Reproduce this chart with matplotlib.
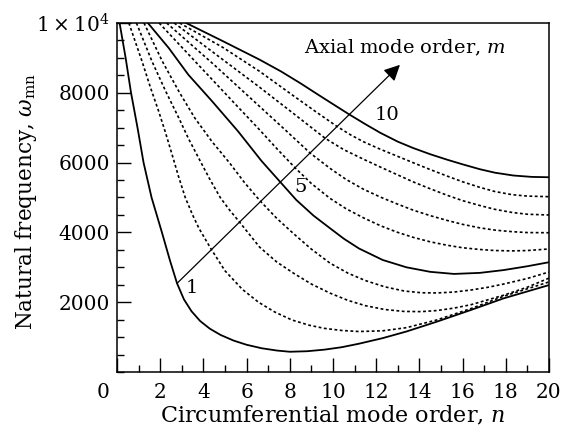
import matplotlib
matplotlib.use("Agg")
from matplotlib import pyplot as plt
from matplotlib.transforms import ScaledTranslation

plt.rcParams["font.family"] = ["DejaVu Serif"]
plt.rcParams["mathtext.fontset"] = "dejavuserif"

# values: circumferential order n -> natural frequency
n_m1 = [0.12, 0.4, 0.65, 0.95, 1.23, 1.6, 2.08, 2.45, 2.78, 3.1, 3.45, 3.85, 4.3, 4.8, 5.4, 6.0, 6.7,
        7.4, 8.0, 8.8, 9.6, 10.4, 11.2, 12.3, 13.4, 14.8, 16.4, 17.9, 20]
w_m1 = [10000, 9000, 8000, 7000, 6000, 5000, 4000, 3200, 2540, 2080, 1740, 1460, 1240, 1060, 900, 780, 680,
        615, 580, 595, 640, 710, 810, 970, 1160, 1440, 1780, 2110, 2490]

n_m2 = [0.55, 1.16, 1.55, 1.93, 2.25, 2.55, 2.85, 3.16, 3.5, 3.8, 4.35, 5.0, 5.8, 6.55, 7.3, 8.1, 8.9,
        9.6, 10.4, 11.2, 12.3, 13.4, 14.8, 16.4, 17.9, 20]
w_m2 = [10000, 8900, 8150, 7470, 6850, 6230, 5600, 5000, 4500, 4110, 3530, 2900, 2370, 2000, 1720, 1490, 1340,
        1250, 1190, 1160, 1180, 1270, 1490, 1820, 2170, 2580]

n_m3 = [0.9, 1.62, 2.25, 2.86, 3.3, 3.78, 4.3, 4.78, 5.2, 5.66, 6.6, 7.4, 8.2, 9.0, 9.86, 10.7, 11.5,
        12.4, 13.3, 14.1, 14.8, 15.6, 16.4, 17.9, 19, 20]
w_m3 = [10000, 8900, 8050, 7280, 6700, 6130, 5520, 5000, 4650, 4306, 3580, 3150, 2820, 2520, 2260, 2050, 1900,
        1790, 1735, 1730, 1760, 1830, 1930, 2200, 2430, 2690]

n_m4 = [1.25, 2.1, 2.9, 3.6, 4.4, 5.2, 5.9, 6.6, 7.4, 8.2, 9.0, 9.86, 10.7, 11.5, 12.4, 13.3, 14.1,
        14.8, 15.6, 16.4, 17.2, 17.9, 19, 20]
w_m4 = [10000, 8900, 8000, 7280, 6600, 6000, 5430, 4920, 4400, 3950, 3520, 3120, 2830, 2620, 2440, 2320, 2270,
        2265, 2290, 2350, 2430, 2520, 2680, 2865]

n_m5 = [1.43, 2.4, 3.3, 4.4, 5.6, 6.7, 7.55, 8.3, 9.1, 9.86, 10.5, 11.2, 12.3, 13.4, 14.5, 15.6, 16.8,
        17.9, 19, 20]
w_m5 = [10000, 9280, 8520, 7760, 6900, 6040, 5450, 4930, 4480, 4120, 3820, 3540, 3210, 3000, 2870, 2810, 2840,
        2920, 3030, 3145]

n_m6 = [1.95, 3.1, 4.3, 5.5, 6.6, 7.4, 8.23, 9.0, 9.86, 10.6, 11.4, 12.2, 12.95, 13.7, 14.5, 15.3, 16,
        16.8, 17.5, 18.3, 19, 20]
w_m6 = [10000, 9240, 8450, 7660, 6940, 6400, 5860, 5400, 4976, 4680, 4420, 4190, 4010, 3860, 3730, 3630, 3560,
        3510, 3480, 3470, 3480, 3525]

n_m7 = [2.3, 4.5, 6.6, 7.8, 8.94, 9.86, 10.6, 11.4, 12.2, 12.95, 13.7, 14.5, 15.3, 16, 16.8, 17.5, 18.3,
        19, 20]
w_m7 = [10000, 8800, 7610, 6930, 6274, 5836, 5520, 5240, 5010, 4820, 4640, 4480, 4340, 4230, 4130, 4065, 4020,
        3995, 3990]

n_m8 = [2.65, 4.6, 6.6, 8.1, 9.64, 10.5, 11.4, 12.2, 12.95, 13.7, 14.5, 15.3, 16, 16.8, 17.5, 18.3, 19, 20]
w_m8 = [10000, 9090, 8160, 7440, 6695, 6370, 6100, 5870, 5660, 5450, 5250, 5060, 4910, 4770, 4660, 4570, 4520,
        4498]

n_m9 = [2.9, 4.9, 6.6, 8.2, 9.2, 10.2, 10.8, 11.4, 12.2, 12.95, 13.7, 14.5, 15.3, 16, 16.8, 17.5, 18.3, 19, 20]
w_m9 = [10000, 9300, 8615, 7900, 7460, 7030, 6800, 6600, 6380, 6190, 6000, 5800, 5610, 5450, 5290, 5170, 5080,
        5040, 5023]

n_m10 = [3.2, 4.9, 6.6, 7.6, 8.5, 9.2, 9.86, 10.7, 11.5, 12.2, 13.0, 13.7, 14.5, 15.3, 16.0, 16.8, 17.5,
         18.35, 19.2, 20]
w_m10 = [10000, 9480, 8950, 8610, 8270, 7990, 7730, 7400, 7100, 6850, 6600, 6420, 6240, 6080, 5950, 5810, 5710,
         5630, 5590, 5580]

curves_n = [n_m1, n_m2, n_m3, n_m4, n_m5, n_m6, n_m7, n_m8, n_m9, n_m10]
curves_w = [w_m1, w_m2, w_m3, w_m4, w_m5, w_m6, w_m7, w_m8, w_m9, w_m10]
solid_modes = [1, 5, 10]

x_ticks = list(range(0, 21, 2))
y_ticks = [2000, 4000, 6000, 8000, 10000]
y_labels = ["2000", "4000", "6000", "8000", "1\u2009×\u200910$^{4}$"]

arrow_start = (2.78, 2540)
arrow_end = (13.1, 8800)

fig = plt.figure(figsize=(5.63, 4.32), dpi=100)
ax = fig.add_axes([0.2078, 0.1389, 0.7673, 0.8079])

for m, (ns, ws) in enumerate(zip(curves_n, curves_w), start=1):
    if m in solid_modes:
        ax.plot(ns, ws, color="black", lw=1.3, solid_joinstyle="round")
    else:
        ax.plot(ns, ws, color="black", lw=1.2, linestyle=(0, (1.7, 1.5)))

ax.annotate("", xy=arrow_end, xytext=arrow_start,
            arrowprops=dict(arrowstyle="-|>", color="black", lw=0.9,
                            mutation_scale=24, shrinkA=0, shrinkB=0))

fs_txt = 14
ax.text(3.45, 2400, "1", fontsize=fs_txt, ha="center", va="center")
ax.text(8.5, 5300, "5", fontsize=fs_txt, ha="center", va="center")
ax.text(12.5, 7360, "10", fontsize=fs_txt, ha="center", va="center")
ax.text(8.65, 9280, "Axial mode order, $m$", fontsize=fs_txt, ha="left", va="center")

ax.set_xlim(0, 20)
ax.set_ylim(0, 10000)
ax.set_xticks(x_ticks)
ax.set_xticks(range(0, 21), minor=True)
ax.set_yticks(y_ticks)
ax.set_yticklabels(y_labels)
ax.set_yticks(range(0, 10001, 500), minor=True)
ax.tick_params(which="both", direction="in", labelsize=14.5, width=1.0)
ax.tick_params(which="major", length=10)
ax.tick_params(which="minor", length=5)
ax.tick_params(axis="x", which="major", pad=8)
ax.tick_params(axis="y", which="major", pad=5)
for s in ax.spines.values():
    s.set_linewidth(1.1)

# the "0" sits left of the corner
lbl0 = ax.get_xticklabels()[0]
lbl0.set_transform(lbl0.get_transform() + ScaledTranslation(-0.14, 0, fig.dpi_scale_trans))

ax.set_xlabel("Circumferential mode order, $n$", fontsize=16)
ax.set_ylabel(r"Natural frequency, $\omega_{\mathrm{mn}}$", fontsize=15.5)
ax.xaxis.set_label_coords(0.5, -0.093)
ax.yaxis.set_label_coords(-0.18, 0.49)

fig.savefig("out.png", dpi=100)
